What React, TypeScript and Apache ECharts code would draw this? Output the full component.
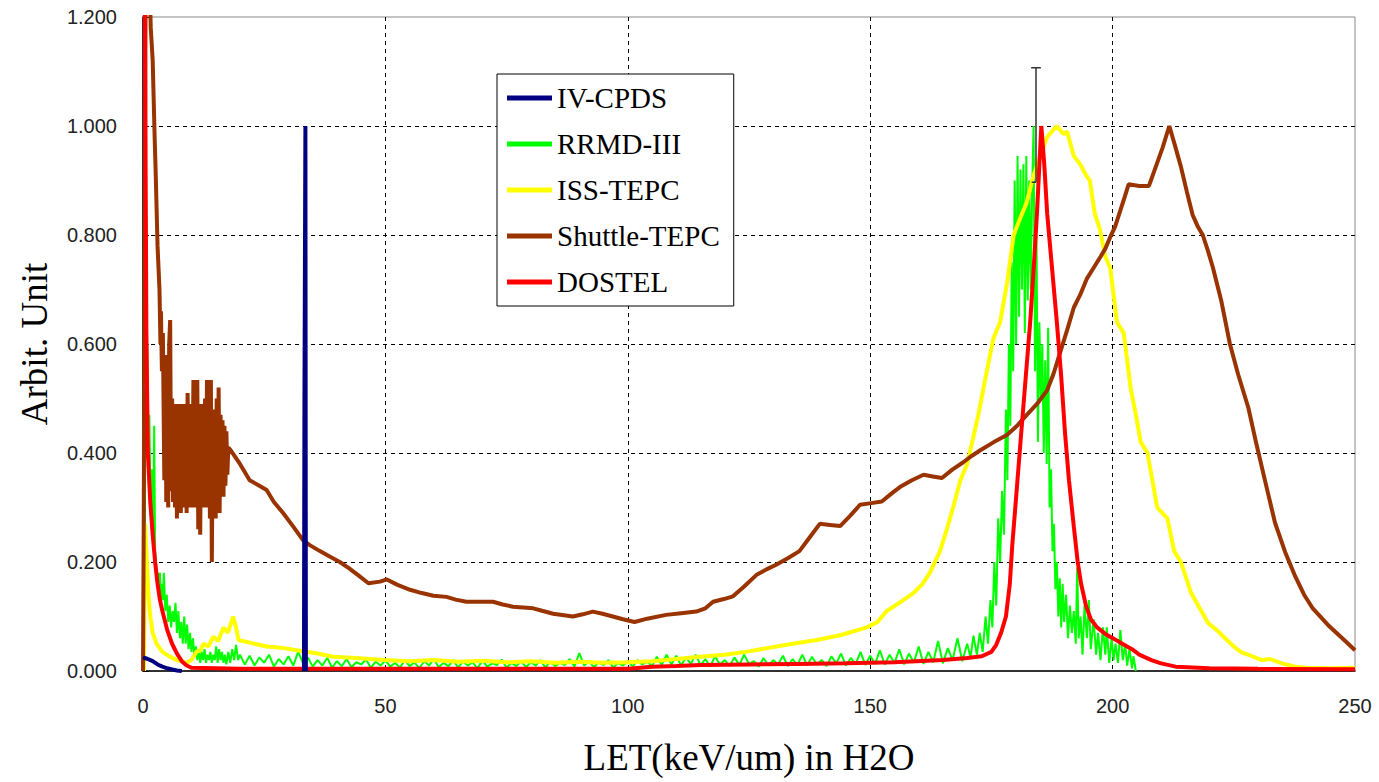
import React, { useEffect, useRef } from "react";
import * as echarts from "echarts";

// LET (keV/um in H2O) vs arbitrary unit
const IV_CPDS: any[] = [
  [0, 0.025], [1, 0.022], [2, 0.018], [3, 0.012], [4, 0.008], [5, 0.005], [6, 0.003], [7, 0.001], [8, 0],
  [20, "-"],
  [33.2, 0], [33.3, 0.49], [33.5, 1.0], [33.6, 0],
];

const RRMD_III: number[][] = [
  [0.3, 0], [0.5, 0.62], [0.7, 0.5], [0.9, 0.6], [1.1, 0.44], [1.3, 0.47], [1.5, 0.35], [1.7, 0.3], [1.9, 0.37],
  [2.1, 0.24], [2.3, 0.45], [2.5, 0.22], [2.7, 0.2], [2.9, 0.16], [3.1, 0.18], [3.3, 0.14], [3.5, 0.18], [3.7, 0.12],
  [3.9, 0.16], [4.1, 0.13], [4.3, 0.18], [4.6, 0.11], [4.9, 0.14], [5.2, 0.09], [5.5, 0.12], [5.8, 0.08], [6.1, 0.11],
  [6.4, 0.09], [6.7, 0.125], [7.0, 0.07], [7.3, 0.11], [7.6, 0.06], [7.9, 0.09], [8.2, 0.05], [8.5, 0.1], [8.8, 0.05],
  [9.1, 0.085], [9.4, 0.04], [9.7, 0.07], [10.0, 0.035], [10.3, 0.06], [10.6, 0.03], [10.9, 0.045], [11.2, 0.02],
  [11.5, 0.04], [11.8, 0.015], [12.1, 0.035], [12.4, 0.02], [12.7, 0.04], [13.0, 0.015], [13.3, 0.03], [13.6, 0.02],
  [13.9, 0.035], [14.2, 0.015], [14.5, 0.03], [14.8, 0.02], [15.1, 0.045], [15.4, 0.015], [15.7, 0.04], [16.0, 0.02],
  [16.3, 0.035], [16.6, 0.015], [16.9, 0.03], [17.2, 0.012], [17.6, 0.035], [18.0, 0.015], [18.4, 0.04], [18.8, 0.02],
  [19.2, 0.048], [19.6, 0.02], [20, 0.03], [21, 0.012], [22, 0.028], [23, 0.01], [24, 0.025], [25, 0.015], [26, 0.03],
  [27, 0.008], [28, 0.022], [29, 0.012], [30, 0.027], [31, 0.01], [32, 0.035], [33, 0.015], [34, 0.025], [35, 0.008],
  [36, 0.02], [37, 0.01], [38, 0.024], [39, 0.006], [40, 0.018], [41, 0.009], [42, 0.022], [43, 0.007], [44, 0.016],
  [45, 0.012], [46, 0.021], [47, 0.006], [48, 0.017], [49, 0.01], [50, 0.019], [51, 0.008], [52, 0.015], [53, 0.006],
  [54, 0.02], [55, 0.009], [56, 0.016], [57, 0.005], [58, 0.018], [59, 0.01], [60, 0.022], [61, 0.007], [62, 0.015],
  [63, 0.009], [64, 0.02], [65, 0.006], [66, 0.017], [67, 0.01], [68, 0.016], [69, 0.005], [70, 0.019], [71, 0.008],
  [72, 0.014], [73, 0.011], [74, 0.021], [75, 0.006], [76, 0.015], [77, 0.009], [78, 0.018], [79, 0.007], [80, 0.016],
  [81, 0.01], [82, 0.02], [83, 0.006], [84, 0.017], [85, 0.009], [86, 0.015], [87, 0.011], [88, 0.022], [89, 0.008],
  [90, 0.033], [91, 0.01], [92, 0.018], [93, 0.007], [94, 0.016], [95, 0.011], [96, 0.02], [97, 0.006], [98, 0.015],
  [99, 0.01], [100, 0.018], [101, 0.008], [102, 0.02], [103, 0.012], [104, 0.017], [105, 0.009], [106, 0.026],
  [107, 0.011], [108, 0.03], [109, 0.012], [110, 0.028], [111, 0.01], [112, 0.025], [113, 0.013], [114, 0.03],
  [115, 0.011], [116, 0.022], [117, 0.008], [118, 0.027], [119, 0.012], [120, 0.02], [121, 0.009], [122, 0.025],
  [123, 0.011], [124, 0.03], [125, 0.013], [126, 0.018], [127, 0.008], [128, 0.024], [129, 0.01], [130, 0.02],
  [131, 0.012], [132, 0.028], [133, 0.009], [134, 0.022], [135, 0.011], [136, 0.03], [137, 0.01], [138, 0.026],
  [139, 0.012], [140, 0.02], [141, 0.009], [142, 0.027], [143, 0.014], [144, 0.032], [145, 0.01], [146, 0.024],
  [147, 0.012], [148, 0.035], [149, 0.011], [150, 0.028], [151, 0.013], [152, 0.038], [153, 0.012], [154, 0.03],
  [155, 0.014], [156, 0.04], [157, 0.012], [158, 0.032], [159, 0.015], [160, 0.045], [161, 0.013], [162, 0.035],
  [163, 0.016], [164, 0.055], [165, 0.014], [166, 0.042], [167, 0.02], [168, 0.06], [169, 0.018], [170, 0.05],
  [170.7, 0.025], [171.3, 0.065], [172, 0.03], [172.6, 0.07], [173.2, 0.035], [173.8, 0.1], [174.3, 0.05],
  [174.8, 0.13], [175.2, 0.08], [175.6, 0.2], [176, 0.12], [176.4, 0.28], [176.8, 0.2], [177.2, 0.33], [177.6, 0.25],
  [178, 0.48], [178.3, 0.35], [178.6, 0.6], [178.9, 0.45], [179.2, 0.75], [179.5, 0.55], [179.8, 0.9], [180.1, 0.6],
  [180.4, 0.945], [180.7, 0.65], [181, 0.92], [181.3, 0.7], [181.6, 0.93], [181.9, 0.62], [182.2, 0.945],
  [182.5, 0.68], [182.8, 0.9], [183.1, 0.7], [183.4, 0.88], [183.7, 1.0], [184.0, 0.55], [184.3, 0.8], [184.6, 0.42],
  [184.9, 0.64], [185.2, 0.5], [185.5, 0.6], [185.8, 0.4], [186.1, 0.57], [186.4, 0.38], [186.7, 0.63], [187, 0.3],
  [187.3, 0.37], [187.6, 0.22], [187.9, 0.27], [188.2, 0.15], [188.5, 0.2], [188.8, 0.1], [189.1, 0.17], [189.4, 0.08],
  [189.7, 0.16], [190, 0.09], [190.4, 0.14], [190.8, 0.06], [191.2, 0.12], [191.6, 0.07], [192, 0.11], [192.4, 0.05],
  [192.7, 0.19], [193, 0.06], [193.4, 0.1], [193.8, 0.03], [194.2, 0.12], [194.7, 0.06], [195.1, 0.13], [195.5, 0.04],
  [196.1, 0.095], [196.6, 0.03], [197, 0.07], [197.5, 0.02], [198, 0.08], [198.5, 0.03], [198.8, 0.08], [199.3, 0.015],
  [199.8, 0.06], [200.2, 0.02], [200.6, 0.05], [201.1, 0.015], [201.6, 0.075], [202.1, 0.02], [202.6, 0.05],
  [203, 0.01], [203.5, 0.04], [204, 0.005], [204.3, 0.027], [204.8, 0],
];

const ISS_TEPC: number[][] = [
  [0.2, 0], [0.4, 0.27], [0.7, 0.22], [1.1, 0.143], [1.5, 0.1], [2, 0.07], [2.8, 0.05], [4, 0.035], [5.6, 0.026],
  [7, 0.02], [9, 0.015], [10, 0.02], [11, 0.035], [11.8, 0.038], [12.5, 0.05], [13.5, 0.045], [14.5, 0.063],
  [15.5, 0.055], [16.6, 0.08], [17.5, 0.07], [18.6, 0.1], [19.2, 0.08], [19.7, 0.057], [22, 0.052], [25.5, 0.045],
  [29, 0.042], [32.4, 0.037], [36, 0.032], [39.2, 0.026], [44, 0.024], [49.6, 0.02], [55, 0.018], [60, 0.02],
  [65, 0.017], [70, 0.019], [75, 0.016], [80, 0.018], [85, 0.015], [90, 0.017], [95, 0.015], [100, 0.016],
  [105, 0.018], [110, 0.022], [114.9, 0.026], [120, 0.03], [125, 0.036], [128.7, 0.042], [134, 0.05], [139, 0.057],
  [144, 0.066], [149.3, 0.08], [151.5, 0.09], [153.4, 0.11], [156, 0.125], [158.9, 0.143], [160.8, 0.16],
  [162.3, 0.18], [164.4, 0.22], [165.8, 0.26], [167.1, 0.3], [168.6, 0.35], [170, 0.38], [171.3, 0.43],
  [172.3, 0.47], [173.4, 0.52], [174.5, 0.57], [175.4, 0.61], [176.8, 0.64], [178.2, 0.71], [179.6, 0.8],
  [180.9, 0.83], [182.3, 0.86], [183.7, 0.91], [185.1, 0.945], [186.5, 0.98], [188.5, 1.0], [189.9, 0.985],
  [190.6, 0.99], [192, 0.945], [193.3, 0.93], [194.5, 0.91], [195.3, 0.9], [196.3, 0.84], [197.4, 0.81],
  [198.5, 0.76], [199.5, 0.74], [200.9, 0.64], [202.3, 0.62], [203.7, 0.52], [204.8, 0.47], [205.8, 0.42],
  [207.2, 0.4], [208.2, 0.35], [209.2, 0.3], [211.3, 0.28], [212.7, 0.22], [214.1, 0.2], [215.2, 0.17],
  [216.2, 0.143], [218.3, 0.11], [219.7, 0.088], [221.5, 0.075], [223.1, 0.061], [225, 0.045], [226.6, 0.034],
  [228.5, 0.028], [230.8, 0.02], [232.5, 0.022], [234.9, 0.014], [237.7, 0.008], [240, 0.006], [245, 0.005],
  [250, 0.006],
];

const SHUTTLE_TEPC: number[][] = [
  [0, 0], [0.15, 0.27], [0.6, 1.4], [1.4, 1.25], [1.6, 1.18], [2.0, 1.12], [2.2, 1.05], [2.4, 0.98], [2.6, 0.92],
  [2.8, 0.85], [3.0, 0.78], [3.2, 0.74], [3.4, 0.7], [3.6, 0.6], [3.7, 0.66], [3.9, 0.55], [4.1, 0.62],
  [4.2, 0.62], [4.4, 0.35], [4.6, 0.58], [4.8, 0.31], [5.0, 0.55], [5.2, 0.3], [5.4, 0.6], [5.6, 0.644], [5.8, 0.33],
  [6.0, 0.5], [6.2, 0.31], [6.4, 0.48], [6.6, 0.3], [6.8, 0.49], [7.0, 0.28], [7.2, 0.47], [7.4, 0.33], [7.6, 0.49],
  [7.8, 0.29], [8.0, 0.46], [8.2, 0.3], [8.4, 0.49], [8.6, 0.32], [8.8, 0.47], [9.0, 0.29], [9.2, 0.51], [9.4, 0.34],
  [9.6, 0.48], [9.8, 0.3], [10.0, 0.49], [10.2, 0.33], [10.4, 0.534], [10.6, 0.3], [10.8, 0.5], [11.0, 0.34],
  [11.2, 0.534], [11.4, 0.26], [11.6, 0.47], [11.8, 0.25], [12.0, 0.49], [12.2, 0.31], [12.4, 0.46], [12.6, 0.3],
  [12.8, 0.5], [13.0, 0.33], [13.2, 0.534], [13.4, 0.3], [13.6, 0.52], [13.8, 0.28], [14.0, 0.534], [14.2, 0.2],
  [14.4, 0.48], [14.6, 0.3], [14.8, 0.46], [15.0, 0.28], [15.2, 0.5], [15.4, 0.29], [15.6, 0.52], [15.8, 0.29],
  [16.0, 0.47], [16.2, 0.33], [16.4, 0.46], [16.6, 0.32], [16.8, 0.45], [17.0, 0.34], [17.2, 0.44], [17.4, 0.36],
  [17.6, 0.41], [18.1, 0.405], [20, 0.38], [22, 0.35], [24, 0.34], [25.5, 0.332], [27, 0.31], [28.9, 0.29],
  [31, 0.265], [33, 0.24], [34.4, 0.231], [36.5, 0.22], [38.5, 0.21], [40.6, 0.2], [42.6, 0.188], [44.5, 0.175],
  [46.5, 0.161], [48.9, 0.164], [50.3, 0.168], [52.5, 0.158], [55.1, 0.149], [57.5, 0.143], [59.9, 0.138],
  [62.6, 0.136], [64.5, 0.131], [66.7, 0.127], [72.2, 0.127], [74.2, 0.122], [76.3, 0.118], [80.5, 0.115],
  [82.5, 0.11], [84.6, 0.105], [88.7, 0.1], [90.7, 0.104], [92.8, 0.109], [94.8, 0.105], [96.9, 0.1], [99, 0.095],
  [101.4, 0.09], [104, 0.096], [107.9, 0.103], [111, 0.106], [114.1, 0.109], [116, 0.115], [117.6, 0.127],
  [119.8, 0.132], [121.7, 0.137], [124, 0.155], [126.5, 0.176], [128.5, 0.186], [130.6, 0.195], [133, 0.207],
  [135.4, 0.22], [137.5, 0.245], [139.6, 0.27], [141.7, 0.268], [143.8, 0.266], [145.9, 0.285], [147.9, 0.305],
  [150.2, 0.308], [152.4, 0.311], [154.3, 0.325], [156.2, 0.338], [158.6, 0.35], [161, 0.36], [162.9, 0.357],
  [164.8, 0.354], [167, 0.37], [169.2, 0.383], [171, 0.395], [172.7, 0.405], [175.5, 0.42], [178.2, 0.433],
  [180.3, 0.45], [182.3, 0.47], [184.4, 0.49], [186.5, 0.515], [187.8, 0.545], [189.2, 0.585], [190.6, 0.625],
  [192, 0.667], [193.3, 0.69], [194.7, 0.72], [196.1, 0.74], [197.5, 0.76], [198.5, 0.775], [199.5, 0.796],
  [200.5, 0.815], [201.6, 0.845], [202.5, 0.87], [203.3, 0.893], [205.5, 0.89], [207.5, 0.89], [208.9, 0.925],
  [210.3, 0.96], [211.7, 1.0], [212.9, 0.963], [214.1, 0.925], [215.3, 0.88], [216.5, 0.837], [217.6, 0.815],
  [218.6, 0.8], [219.7, 0.77], [220.7, 0.74], [222.4, 0.68], [224.2, 0.6], [225.9, 0.544], [228, 0.483],
  [229.7, 0.415], [231.5, 0.347], [233.5, 0.272], [235.6, 0.218], [237.7, 0.173], [239.5, 0.14], [241.2, 0.116],
  [244.7, 0.082], [248.1, 0.054], [250, 0.038],
];

const DOSTEL: number[][] = [
  [0.2, 1.5], [0.5, 1.0], [0.7, 0.62], [1.0, 0.4], [1.5, 0.31], [2, 0.25], [2.5, 0.2], [3, 0.16], [3.5, 0.13],
  [4, 0.11], [5, 0.075], [6, 0.05], [7, 0.032], [8, 0.018], [9, 0.01], [10, 0.006], [15, 0.005], [20, 0.004],
  [40, 0.004], [60, 0.004], [80, 0.004], [100, 0.004], [105, 0.008], [110, 0.009], [115, 0.011], [125, 0.012],
  [135, 0.013], [145, 0.014], [155, 0.016], [165, 0.02], [170, 0.024], [173, 0.027], [175, 0.035], [176, 0.048],
  [177, 0.07], [178, 0.1], [178.8, 0.16], [179.3, 0.23], [180.2, 0.33], [181, 0.42], [182, 0.53], [183, 0.64],
  [183.8, 0.75], [184.4, 0.84], [184.9, 0.93], [185.3, 1.0], [185.9, 0.93], [186.5, 0.84], [187.5, 0.74],
  [188.5, 0.64], [189.4, 0.54], [190.2, 0.435], [191, 0.35], [192, 0.265], [192.8, 0.2], [193.5, 0.16],
  [194.5, 0.12], [195.5, 0.095], [196.8, 0.08], [198.5, 0.068], [200.5, 0.058], [202, 0.05], [204, 0.04],
  [205.5, 0.03], [208, 0.02], [210, 0.014], [213, 0.008], [220, 0.005], [230, 0.004], [250, 0.003],
];

// error bar on the RRMD-III peak
const ERR_BAR: number[][] = [[184.2, 0.897], [184.2, 1.107]];
const ERR_CAP: number[][] = [[183.2, 1.107], [185.2, 1.107]];
const ERR_FOOT: number[][] = [[183.3, 0.897], [184.2, 0.897]];

const SERIES_NAMES = ["IV-CPDS", "RRMD-III", "ISS-TEPC", "Shuttle-TEPC", "DOSTEL"];
const SERIES_COLORS = ["#000080", "#00FF00", "#FFFF00", "#993300", "#FF0000"];
const SERIES_DATA: any[] = [IV_CPDS, RRMD_III, ISS_TEPC, SHUTTLE_TEPC, DOSTEL];
const SERIES_WIDTH = [4, 2, 4, 4, 4];
const SERIES_Z = [7, 2, 3, 4, 5];

export default function App() {
  const ref = useRef<HTMLDivElement>(null);
  useEffect(() => {
    if (!ref.current) return;
    const chart = echarts.init(ref.current, undefined, { renderer: "svg" });
    const serif = "'Liberation Serif', 'Times New Roman', serif";
    const sans = "'Liberation Sans', Arial, sans-serif";
    const lines: any[] = SERIES_NAMES.map((name, i) => ({
      name,
      type: "line",
      data: SERIES_DATA[i],
      showSymbol: false,
      symbol: "none",
      connectNulls: false,
      clip: true,
      z: SERIES_Z[i],
      lineStyle: { width: SERIES_WIDTH[i], color: SERIES_COLORS[i] },
      itemStyle: { color: SERIES_COLORS[i] },
    }));
    [ERR_BAR, ERR_CAP, ERR_FOOT].forEach((d, k) => {
      lines.push({
        name: "err" + k,
        type: "line",
        data: d,
        showSymbol: false,
        symbol: "none",
        z: 8,
        lineStyle: { width: 1.5, color: "#333333" },
      });
    });
    chart.setOption({
      animation: false,
      backgroundColor: "#ffffff",
      grid: {
        left: 143,
        right: 24,
        top: 17,
        bottom: 111,
        show: true,
        borderColor: "#888888",
        borderWidth: 1,
      },
      legend: {
        orient: "vertical",
        left: 497,
        top: 74,
        padding: [8, 14, 8, 10],
        itemGap: 14,
        itemWidth: 45,
        itemHeight: 5,
        icon: "rect",
        borderColor: "#000",
        borderWidth: 1,
        backgroundColor: "#fff",
        z: 10,
        textStyle: { fontFamily: serif, fontSize: 29, color: "#000", lineHeight: 32 },
        data: SERIES_NAMES,
      },
      xAxis: {
        type: "value",
        min: 0,
        max: 250,
        interval: 50,
        name: "LET(keV/um) in H2O",
        nameLocation: "middle",
        nameGap: 68,
        nameTextStyle: { fontFamily: serif, fontSize: 37, color: "#000" },
        axisLine: { show: true, onZero: false, lineStyle: { color: "#000", width: 1.5 } },
        axisTick: { show: false },
        axisLabel: { fontFamily: sans, fontSize: 20, color: "#222", margin: 25 },
        splitLine: {
          show: true,
          showMinLine: false,
          showMaxLine: false,
          lineStyle: { color: "#000", width: 1, type: [4, 4] },
        },
      },
      yAxis: {
        type: "value",
        min: 0,
        max: 1.2,
        interval: 0.2,
        name: "Arbit. Unit",
        nameLocation: "middle",
        nameGap: 90,
        nameTextStyle: { fontFamily: serif, fontSize: 37, color: "#000" },
        axisLine: { show: true, onZero: false, lineStyle: { color: "#000", width: 1.5 } },
        axisTick: { show: true, inside: true, length: 6, lineStyle: { color: "#000" } },
        axisLabel: {
          fontFamily: sans,
          fontSize: 20,
          color: "#222",
          margin: 26,
          formatter: (v: number) => v.toFixed(3),
        },
        splitLine: {
          show: true,
          showMinLine: false,
          showMaxLine: false,
          lineStyle: { color: "#000", width: 1, type: [4, 4] },
        },
      },
      series: lines,
    });
    return () => chart.dispose();
  }, []);
  return (
    <div
      ref={ref}
      style={{ position: "fixed", left: 0, top: 0, width: 1379, height: 782, background: "#fff" }}
    />
  );
}
